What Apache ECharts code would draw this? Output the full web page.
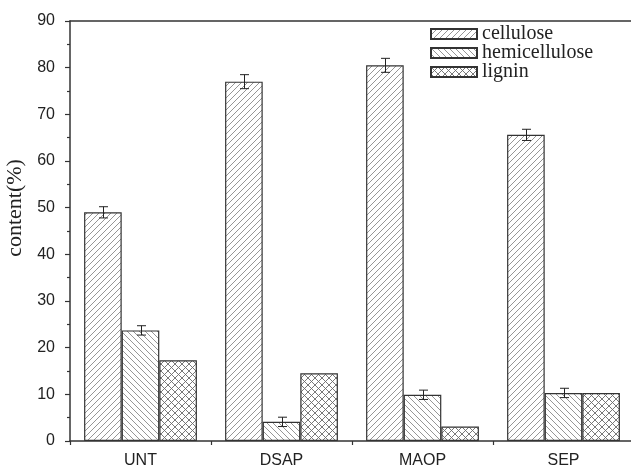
<!DOCTYPE html>
<html><head><meta charset="utf-8">
<script src="https://cdn.jsdelivr.net/npm/echarts@6/dist/echarts.min.js"></script>
<style>html,body{margin:0;padding:0;background:#fff}#c{width:631px;height:469px}</style>
</head><body><div id="c"></div>
<script>
const categories = ['UNT', 'DSAP', 'MAOP', 'SEP'];
const seriesNames = ['cellulose', 'hemicellulose', 'lignin'];
const cellulose = [49.0, 77.0, 80.5, 65.6];
const hemicellulose = [23.7, 4.1, 9.9, 10.3];
const lignin = [17.3, 14.5, 3.1, 10.3];
const celluloseErr = [1.2, 1.5, 1.5, 1.2];
const hemicelluloseErr = [1.0, 1.0, 1.0, 1.0];

function makePattern(kind) {
  const s = kind === 'cross' ? 14 : 6;
  const c = document.createElement('canvas');
  c.width = s; c.height = s;
  const g = c.getContext('2d');
  g.fillStyle = '#ffffff'; g.fillRect(0, 0, s, s);
  g.strokeStyle = kind === 'cross' ? '#6a6a6a' : '#8a8a8a';
  g.lineWidth = 0.9;
  const step = kind === 'cross' ? 7 : 6;
  g.beginPath();
  if (kind === 'fwd' || kind === 'cross') {
    for (let o = -s; o <= s; o += step) { g.moveTo(o, s); g.lineTo(o + s, 0); }
  }
  if (kind === 'back' || kind === 'cross') {
    for (let o = -s; o <= s; o += step) { g.moveTo(o, 0); g.lineTo(o + s, s); }
  }
  g.stroke();
  return { image: c, repeat: 'repeat' };
}

const BAR_FRAC = 0.8;
function errSeries(vals, errs, idx) {
  return {
    type: 'custom', silent: true, z: 5, xAxisIndex: 0, yAxisIndex: 0,
    data: vals.map((v, i) => [i, v, errs[i]]),
    renderItem(params, api) {
      const i = api.value(0), v = api.value(1), e = api.value(2);
      const bandW = api.size([1, 0])[0];
      const barW = bandW * BAR_FRAC / 3;
      const cx = Math.round(api.coord([i, v])[0] + (idx - 1) * barW) + 0.5;
      const yHi = api.coord([i, v + e])[1], yLo = api.coord([i, v - e])[1];
      const hw = 4.5;
      const st = { stroke: '#222', lineWidth: 1, fill: null };
      return { type: 'group', children: [
        { type: 'line', shape: { x1: cx, y1: yHi, x2: cx, y2: yLo }, style: st },
        { type: 'line', shape: { x1: cx - hw, y1: yHi, x2: cx + hw, y2: yHi }, style: st },
        { type: 'line', shape: { x1: cx - hw, y1: yLo, x2: cx + hw, y2: yLo }, style: st }
      ] };
    }
  };
}

const axisColor = '#333';
const patterns = [makePattern('fwd'), makePattern('back'), makePattern('cross')];
const chart = echarts.init(document.getElementById('c'));
const barCommon = {
  type: 'bar', barGap: '0%', barCategoryGap: '20%', xAxisIndex: 0, yAxisIndex: 0
};
const emptyVals = categories.map(() => null);
chart.setOption({
  animation: false,
  backgroundColor: '#fff',
  grid: { left: 70, top: 21, bottom: 28, width: 564, outerBoundsMode: 'none', containLabel: false },
  legend: {
    data: seriesNames, orient: 'vertical', left: 430, top: 24, icon: 'rect',
    itemWidth: 46, itemHeight: 10, itemGap: -1, padding: 0,
    textStyle: { fontFamily: 'Liberation Serif', fontSize: 20, color: '#222' }
  },
  xAxis: [
    { type: 'category', data: categories, position: 'bottom',
      axisLine: { lineStyle: { color: axisColor, width: 1.5 } },
      axisTick: { alignWithLabel: true, length: 7, lineStyle: { color: axisColor, width: 1.2 } },
      axisLabel: { color: '#222', fontSize: 16, fontFamily: 'Liberation Sans', margin: 12 } },
    { type: 'category', data: categories, position: 'bottom',
      axisLine: { show: false },
      axisTick: { show: true, length: 4, lineStyle: { color: axisColor, width: 1.2 } },
      axisLabel: { show: false } },
    { type: 'category', data: categories, position: 'top',
      axisLine: { lineStyle: { color: axisColor, width: 1.5 } },
      axisTick: { show: false }, axisLabel: { show: false } }
  ],
  yAxis: {
    type: 'value', min: 0, max: 90, interval: 10,
    name: 'content(%)', nameLocation: 'middle', nameGap: 29,
    nameTextStyle: { fontFamily: 'Liberation Serif', fontSize: 22, color: '#222', padding: [0, 0, 0, 46] },
    axisLine: { show: true, lineStyle: { color: axisColor, width: 1.5 } },
    axisTick: { show: true, length: 5, lineStyle: { color: axisColor, width: 1.2 } },
    minorTick: { show: true, splitNumber: 2, length: 3, lineStyle: { color: axisColor, width: 1.2 } },
    splitLine: { show: false },
    axisLabel: { color: '#222', fontSize: 16, fontFamily: 'Liberation Sans', margin: 15 }
  },
  series: [
    Object.assign({}, barCommon, { name: seriesNames[0], data: cellulose,
      itemStyle: { color: patterns[0], borderColor: '#333', borderWidth: 1.2 } }),
    Object.assign({}, barCommon, { name: seriesNames[1], data: hemicellulose,
      itemStyle: { color: patterns[1], borderColor: '#333', borderWidth: 1.2 } }),
    Object.assign({}, barCommon, { name: '_pad1', stack: 'L', data: emptyVals, silent: true,
      itemStyle: { color: 'rgba(0,0,0,0)', borderWidth: 0 } }),
    Object.assign({}, barCommon, { name: seriesNames[2], stack: 'L', data: lignin,
      itemStyle: { color: patterns[2], borderColor: '#333', borderWidth: 1.2 } }),
    Object.assign({}, barCommon, { name: '_pad2', stack: 'L', data: emptyVals, silent: true,
      itemStyle: { color: 'rgba(0,0,0,0)', borderWidth: 0 } }),
    errSeries(cellulose, celluloseErr, 0),
    errSeries(hemicellulose, hemicelluloseErr, 1)
  ]
});
</script></body></html>
